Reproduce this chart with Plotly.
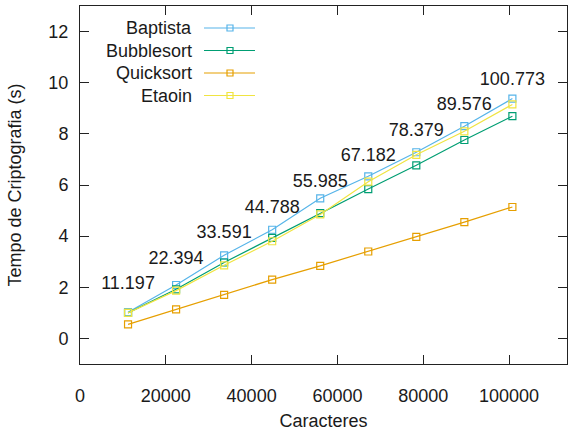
import plotly.graph_objects as go

# Number of characters per test (in thousands for the labels)
char_thousands = [11.197, 22.394, 33.591, 44.788, 55.985, 67.182, 78.379, 89.576, 100.773]
caracteres = [round(v * 1000) for v in char_thousands]

# Encryption time (seconds) per algorithm
baptista = [1.02, 2.09, 3.25, 4.25, 5.48, 6.34, 7.28, 8.30, 9.38]
bubblesort = [1.00, 1.92, 2.97, 3.93, 4.90, 5.84, 6.77, 7.76, 8.69]
quicksort = [0.55, 1.14, 1.70, 2.30, 2.84, 3.40, 3.97, 4.55, 5.14]
etaoin = [1.00, 1.87, 2.86, 3.80, 4.85, 6.13, 7.18, 8.10, 9.15]

series = [
    ("Baptista", baptista, "#56b4e9"),
    ("Bubblesort", bubblesort, "#009e73"),
    ("Quicksort", quicksort, "#e69f00"),
    ("Etaoin", etaoin, "#f0e442"),
]

FONT = "Liberation Sans, Arial, sans-serif"
W, H = 569, 432
ML, MR, MT, MB = 80, 2, 6, 68

fig = go.Figure()
for name, vals, color in series:
    fig.add_trace(go.Scatter(
        x=caracteres, y=vals, name=name, mode="lines+markers",
        line=dict(color=color, width=1.2),
        marker=dict(symbol="square-open", size=7, color=color, line=dict(width=1.2)),
        showlegend=False,
    ))

# Value labels above each group of points
label_y = [2.1 + i for i in range(len(char_thousands))]
fig.add_trace(go.Scatter(
    x=caracteres, y=label_y, mode="text",
    text=[f"{v:.3f}" for v in char_thousands],
    textfont=dict(family=FONT, size=18, color="#1a1a1a"),
    textposition="middle center", showlegend=False, hoverinfo="skip",
))

# Key in the upper-left corner: text right-aligned, sample line to its right
pw = W - ML - MR
ph = H - MT - MB
def px_x(p):
    return (p - ML) / pw
def px_y(p):
    return 1 - (p - MT) / ph

for i, (name, vals, color) in enumerate(series):
    yy = 28 + i * 22.5
    fig.add_annotation(
        x=px_x(194), y=px_y(yy), xref="paper", yref="paper",
        text=name, showarrow=False, xanchor="right", yanchor="middle",
        font=dict(family=FONT, size=18, color="#1a1a1a"),
    )
    fig.add_shape(type="line", xref="paper", yref="paper",
                  x0=px_x(204), x1=px_x(255), y0=px_y(yy), y1=px_y(yy),
                  line=dict(color=color, width=1.2))
    fig.add_shape(type="rect", xref="paper", yref="paper",
                  x0=px_x(227), x1=px_x(233), y0=px_y(yy - 3), y1=px_y(yy + 3),
                  line=dict(color=color, width=1.2), fillcolor="rgba(0,0,0,0)")

axis_common = dict(
    showgrid=False, zeroline=False, showline=True, mirror="ticks",
    linecolor="#222222", linewidth=1, ticks="inside", ticklen=9,
    tickcolor="#222222", tickfont=dict(family=FONT, size=18, color="#1a1a1a"),
)

fig.update_xaxes(
    range=[0, 113500], tickvals=[0, 20000, 40000, 60000, 80000, 100000],
    ticktext=["0", "20000", "40000", "60000", "80000", "100000"],
    ticklabelstandoff=15,
    title=dict(text="Caracteres", font=dict(family=FONT, size=18, color="#1a1a1a"), standoff=9),
    **axis_common,
)
fig.update_yaxes(
    range=[-1, 13], tickvals=[0, 2, 4, 6, 8, 10, 12],
    ticklabelstandoff=7,
    title=dict(text="Tempo de Criptografia (s)", font=dict(family=FONT, size=18, color="#1a1a1a"), standoff=22),
    **axis_common,
)

fig.update_layout(
    width=W, height=H,
    margin=dict(l=ML, r=MR, t=MT, b=MB),
    plot_bgcolor="white", paper_bgcolor="white",
    font=dict(family=FONT, size=18),
)

fig.write_html("out.html")
